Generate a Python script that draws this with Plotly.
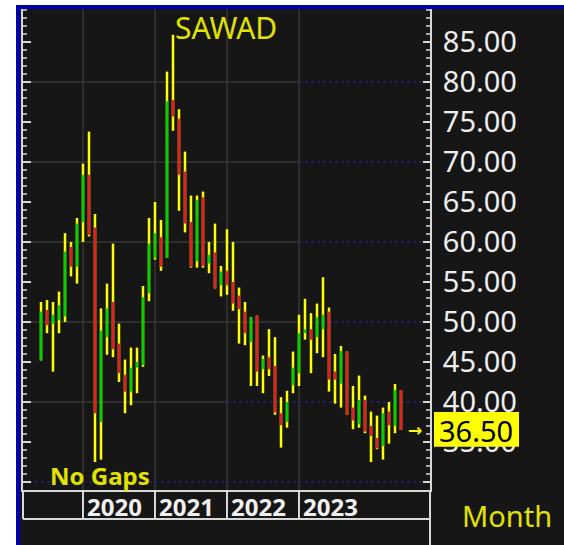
import plotly.graph_objects as go
import pandas as pd

# ---------------- data (monthly OHLC, SAWAD) ----------------
opens = [45.2, 51.5, 49.8, 50.25, 50.7, 59.4, 56.9, 62.5, 68.4, 61.8,
         37.5, 48.1, 52.5, 47.3, 43.4, 41.3, 44.3, 44.6, 53.6, 58.0,
         60.6, 58.0, 77.75, 75.4, 68.8, 62.5, 57.6, 65.6, 57.3, 58.7,
         54.6, 56.4, 55.0, 53.3, 51.3, 47.5, 50.8, 44.1, 45.6, 44.5,
         38.6, 37.5, 42.1, 43.6, 48.6, 49.1, 48.1, 49.1, 51.3, 43.8,
         42.3, 46.3, 39.3, 37.2, 40.25, 37.0, 35.5, 34.5, 38.8, 37.0, 41.5]
highs = [52.5, 52.75, 52.5, 53.8, 61.1, 60.0, 63.0, 69.8, 73.8, 63.5,
         51.7, 54.8, 59.8, 49.8, 45.3, 46.8, 46.8, 54.5, 63.0, 65.0,
         62.75, 81.3, 85.9, 76.6, 71.3, 65.8, 65.8, 66.3, 60.0, 62.3,
         57.0, 61.6, 60.0, 54.3, 52.5, 50.6, 50.8, 45.8, 49.1, 48.1,
         40.6, 41.4, 46.3, 50.9, 52.9, 51.1, 52.3, 55.6, 51.8, 46.0,
         47.0, 46.3, 42.0, 43.3, 40.8, 38.8, 38.3, 39.3, 40.0, 42.25, 41.5]
lows = [45.2, 48.6, 43.8, 48.6, 50.0, 55.7, 54.8, 60.0, 60.7, 32.5,
        32.8, 45.9, 45.6, 42.5, 38.6, 39.6, 41.1, 44.4, 52.6, 57.8,
        56.4, 58.0, 73.9, 63.9, 61.2, 56.8, 56.8, 56.8, 56.1, 54.2,
        53.2, 53.4, 51.4, 47.3, 47.1, 42.0, 42.0, 41.1, 43.25, 38.4,
        34.3, 36.8, 41.1, 42.0, 47.8, 43.6, 46.1, 45.6, 41.3, 39.8,
        39.3, 38.4, 36.6, 36.8, 36.1, 32.5, 34.1, 32.8, 34.8, 36.1, 36.5]
closes = [51.3, 49.6, 50.9, 52.1, 58.8, 56.9, 62.3, 68.4, 60.9, 38.6,
          48.9, 51.7, 46.6, 43.6, 41.3, 44.3, 45.0, 53.1, 59.8, 61.1,
          56.9, 77.6, 75.7, 68.4, 62.3, 56.9, 65.25, 57.0, 58.4, 54.2,
          56.3, 54.6, 52.3, 51.6, 48.6, 50.6, 43.8, 45.4, 44.1, 38.7,
          37.1, 40.0, 44.3, 48.6, 49.1, 47.8, 50.6, 50.9, 42.8, 42.8,
          46.4, 38.4, 37.7, 40.25, 36.3, 35.75, 34.2, 38.6, 37.1, 41.5, 36.5]
months = [str(p) for p in pd.period_range("2019-06", periods=len(opens), freq="M")]
year_labels = ["2020", "2021", "2022", "2023"]
price_ticks = [35, 40, 45, 50, 55, 60, 65, 70, 75, 80, 85]
major_marks = [30, 35, 40, 45, 50, 55, 60, 65, 70, 75, 80, 85]
grid_levels = [30, 40, 50, 60, 70, 80]
symbol = "SAWAD"

# ---------------- geometry / styles ----------------
W, H = 564, 545
ML, MR, MT, MB = 23, 134, 9, 55
PW, PH = W - ML - MR, H - MT - MB
def px(x):  # pixel x -> paper
    return (x - ML) / PW
def py(y):  # pixel y -> paper
    return (H - MB - y) / PH

BG = "#161616"
YEL = "#ffff00"
TXT_YEL = "#e2e200"
GREEN = "#00d200"
RED = "#e02020"
AXIS = "#d8d8d8"
GRID = "#363636"
BLUEGRID = "#22227a"
BLUE = "#0000a8"
FONT = "Noto Sans"

idx = list(range(len(opens)))
year_idx = {m[:4]: i for i, m in reversed(list(enumerate(months))) if m.endswith("-01")}

wx, wy, gx, gy, rx, ry = [], [], [], [], [], []
for i in idx:
    wx += [i, i, None]; wy += [lows[i], highs[i], None]
    if closes[i] >= opens[i]:
        gx += [i, i, None]; gy += [opens[i], closes[i], None]
    else:
        rx += [i, i, None]; ry += [opens[i], closes[i], None]

fig = go.Figure()
fig.add_trace(go.Scatter(x=wx, y=wy, mode="lines", line=dict(color=YEL, width=2.5),
                         hoverinfo="skip", showlegend=False))
fig.add_trace(go.Scatter(x=gx, y=gy, mode="lines", line=dict(color=GREEN, width=2.5),
                         hoverinfo="skip", showlegend=False))
fig.add_trace(go.Scatter(x=rx, y=ry, mode="lines", line=dict(color=RED, width=2.5),
                         hoverinfo="skip", showlegend=False))

x_lo = -3
x_hi = x_lo + PW / 6.0
y_lo = 29
y_hi = y_lo + PH / 8.0
shapes = []
split_idx = year_idx[year_labels[-1]]
split_idx40 = year_idx[year_labels[-2]]
for lvl in grid_levels:
    cut = split_idx40 if lvl == 40 else (x_lo if lvl == 30 else split_idx)
    if cut > x_lo:
        shapes.append(dict(type="line", xref="x", yref="y", x0=x_lo, x1=cut, y0=lvl, y1=lvl,
                           line=dict(color=GRID, width=1.5), layer="below"))
    shapes.append(dict(type="line", xref="x", yref="y", x0=cut, x1=x_hi, y0=lvl, y1=lvl,
                       line=dict(color=BLUEGRID, width=1.5, dash="3px,3px"), layer="below"))
for yl in year_labels:
    i = year_idx[yl]
    shapes.append(dict(type="line", xref="x", yref="paper", x0=i, x1=i, y0=0, y1=1,
                       line=dict(color=GRID, width=1.5), layer="below"))
    shapes.append(dict(type="line", xref="x", yref="paper", x0=i, x1=i, y0=py(490), y1=py(519),
                       line=dict(color=AXIS, width=2), layer="above"))

# axis tick marks (every unit, longer every five) on both price scales
v = int(y_lo) + 1
while v < y_hi:
    major = v in major_marks
    ll = 8 if major else 4
    lr = 7 if major else 4
    w = 2 if major else 1.5
    shapes.append(dict(type="line", xref="paper", yref="y", x0=0, x1=px(ML + ll), y0=v, y1=v,
                       line=dict(color=AXIS, width=w)))
    shapes.append(dict(type="line", xref="paper", yref="y", x0=px(ML + PW - lr), x1=1, y0=v, y1=v,
                       line=dict(color=AXIS, width=w)))
    v += 1

shapes += [
    dict(type="line", xref="paper", yref="paper", x0=0, x1=1, y0=py(519), y1=py(519),
         line=dict(color=AXIS, width=2)),
    dict(type="line", xref="paper", yref="paper", x0=0, x1=0, y0=0, y1=py(519),
         line=dict(color=AXIS, width=2)),
    dict(type="line", xref="paper", yref="paper", x0=1, x1=1, y0=0, y1=py(H),
         line=dict(color=AXIS, width=2)),
    dict(type="rect", xref="paper", yref="paper", x0=px(0), x1=px(16), y0=py(H), y1=py(0),
         fillcolor="white", line=dict(width=0)),
    dict(type="rect", xref="paper", yref="paper", x0=px(0), x1=px(W), y0=py(5), y1=py(0),
         fillcolor="white", line=dict(width=0)),
    dict(type="rect", xref="paper", yref="paper", x0=px(16), x1=px(W), y0=py(9), y1=py(5),
         fillcolor=BLUE, line=dict(width=0)),
    dict(type="rect", xref="paper", yref="paper", x0=px(16), x1=px(20), y0=py(H), y1=py(5),
         fillcolor=BLUE, line=dict(width=0)),
    dict(type="rect", xref="paper", yref="y", x0=px(434), x1=px(519),
         y0=closes[-1] - 2.1, y1=closes[-1] + 2.25, fillcolor=YEL, line=dict(width=0),
         layer="above"),
]

annotations = [
    dict(text=symbol, xref="paper", yref="paper", x=px(226), y=py(28), showarrow=False,
         font=dict(family=FONT, size=30, color=TXT_YEL), xanchor="center", yanchor="middle"),
    dict(text="<b>No Gaps</b>", xref="paper", yref="paper", x=px(48), y=py(475), showarrow=False,
         font=dict(family=FONT, size=24, color=TXT_YEL), xanchor="left", yanchor="middle"),
    dict(text="Month", xref="paper", yref="paper", x=px(507), y=py(515), showarrow=False,
         font=dict(family=FONT, size=29, color=TXT_YEL), xanchor="center", yanchor="middle"),
    dict(text=f"{closes[-1]:.2f}", xref="paper", yref="y", x=px(476), y=closes[-1], showarrow=False,
         font=dict(family=FONT, size=29, color="black"), xanchor="center", yanchor="middle"),
    dict(text="<b>→</b>", xref="paper", yref="y", x=px(415), y=closes[-1], showarrow=False,
         font=dict(family="DejaVu Sans", size=17, color=YEL), xanchor="center", yanchor="middle"),
]
for yl in year_labels:
    annotations.append(dict(text=f"<b>{yl}</b>", xref="x", yref="paper", x=year_idx[yl], y=py(506),
                            xshift=2, showarrow=False, xanchor="left", yanchor="middle",
                            font=dict(family=FONT, size=24, color="#f0f0f0")))

fig.update_layout(
    width=W, height=H,
    margin=dict(l=ML, r=MR, t=MT, b=MB, pad=0),
    paper_bgcolor=BG, plot_bgcolor=BG,
    showlegend=False,
    shapes=shapes, annotations=annotations,
    xaxis=dict(range=[x_lo, x_hi], showgrid=False, zeroline=False, showticklabels=False,
               ticks="", showline=True, linecolor=AXIS, linewidth=2, fixedrange=True),
    yaxis=dict(range=[y_lo, y_hi], side="right", showgrid=False, zeroline=False,
               showline=True, linecolor=AXIS, linewidth=2, mirror=True,
               ticks="", tickmode="array", tickvals=price_ticks,
               ticktext=[f"{v:.2f}" for v in price_ticks],
               tickfont=dict(family=FONT, size=29, color="#eeeeee"),
               ticklabelstandoff=5, fixedrange=True),
)

fig.write_html("out.html", config={"displayModeBar": False},
               post_script="document.body.style.margin='0';")
